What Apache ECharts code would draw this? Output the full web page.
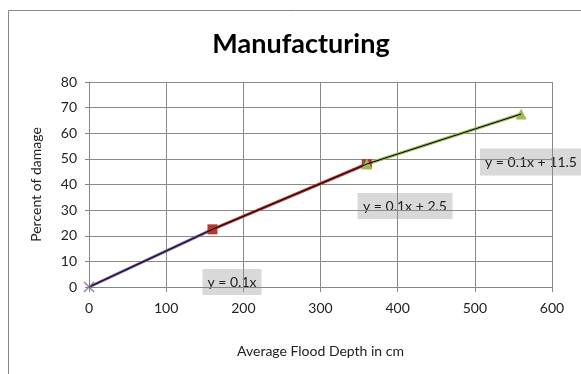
<!DOCTYPE html>
<html><head><meta charset="utf-8">
<script src="https://cdn.jsdelivr.net/npm/echarts@6/dist/echarts.min.js"></script>
<style>html,body{margin:0;padding:0;background:#fff}#c{width:581px;height:374px}</style>
</head><body><div id="c"></div>
<script>
const title = 'Manufacturing';
const xName = 'Average Flood Depth in cm';
const yName = 'Percent of damage';
const seg1 = [[0, 0], [160, 22.5]];
const seg2 = [[160, 22.5], [360, 48]];
const seg3 = [[360, 48], [560, 67.5]];
const eqLabels = ['y = 0.1x', 'y = 0.1x + 2.5', 'y = 0.1x + 11.5'];
const xTicks = {min: 0, max: 600, interval: 100};
const yTicks = {min: 0, max: 80, interval: 10};

const FONT = 'Lato';
const FS = 14;
const chart = echarts.init(document.getElementById('c'), null, {renderer: 'canvas'});
function seg(data, color, symbol, size) {
  return [{
    type: 'line', data: data, symbol: symbol, symbolSize: size, z: 2,
    lineStyle: {color: color, width: 3},
    itemStyle: {color: color, borderWidth: 0, opacity: 1},
    emphasis: {disabled: true}
  }, {
    type: 'line', data: data, symbol: 'none', z: 3,
    lineStyle: {color: '#000', width: 1}
  }];
}
const triPath = 'path://M5,0 L10,10 L0,10 Z';
const crossPath = 'path://M0,0 L10,10 M10,0 L0,10';
function box(cx, cy, w, h, text) {
  return {
    type: 'group', left: cx - w / 2, top: cy - h / 2, children: [
      {type: 'rect', shape: {x: 0, y: 0, width: w, height: h}, style: {fill: '#d9d9d9'}},
      {type: 'text', x: w / 2, y: h / 2, style: {text: text, fill: '#222', font: FS + 'px ' + FONT, align: 'center', verticalAlign: 'middle'}}
    ]
  };
}
chart.setOption({
  animation: false,
  backgroundColor: '#fff',
  title: {text: title, left: 296, top: 26, textAlign: 'center',
    textStyle: {fontFamily: FONT, fontSize: 27, fontWeight: 'bold', color: '#000'}},
  grid: {left: 89, right: 29, top: 82, bottom: 87},
  xAxis: {
    type: 'value', min: xTicks.min, max: xTicks.max, interval: xTicks.interval,
    name: xName, nameLocation: 'middle', nameGap: 57,
    nameTextStyle: {fontFamily: FONT, fontSize: FS, color: '#222'},
    axisLine: {show: true, lineStyle: {color: '#868686'}},
    axisTick: {show: true, length: 5, lineStyle: {color: '#868686'}},
    axisLabel: {fontFamily: FONT, fontSize: FS, color: '#222', margin: 14},
    splitLine: {show: true, lineStyle: {color: '#8a8a8a'}}
  },
  yAxis: {
    type: 'value', min: yTicks.min, max: yTicks.max, interval: yTicks.interval,
    name: yName, nameLocation: 'middle', nameGap: 46, nameRotate: 90,
    nameTextStyle: {fontFamily: FONT, fontSize: FS, color: '#222'},
    axisLine: {show: true, lineStyle: {color: '#868686'}},
    axisTick: {show: true, length: 4, lineStyle: {color: '#868686'}},
    axisLabel: {fontFamily: FONT, fontSize: FS, color: '#222', margin: 12},
    splitLine: {show: true, lineStyle: {color: '#8a8a8a'}}
  },
  series: [].concat(
    seg(seg1, '#7b5ea7', 'none', 0),
    [{type: 'scatter', data: [seg1[0]], symbol: crossPath, symbolSize: 10, z: 5,
      itemStyle: {color: 'none', borderColor: '#8064a2', borderWidth: 1.5}}],
    seg(seg2, '#b03a32', 'rect', 10),
    seg(seg3, '#9bbb59', triPath, 11)
  ),
  graphic: [
    {type: 'rect', shape: {x: 8.5, y: 10.5, width: 700, height: 500}, style: {fill: 'none', stroke: '#888', lineWidth: 1}, z: -1},
    box(232, 282, 59, 26, eqLabels[0]),
    box(405, 206, 95, 26, eqLabels[1]),
    box(531, 162, 102, 27, eqLabels[2])
  ]
});
</script></body></html>
